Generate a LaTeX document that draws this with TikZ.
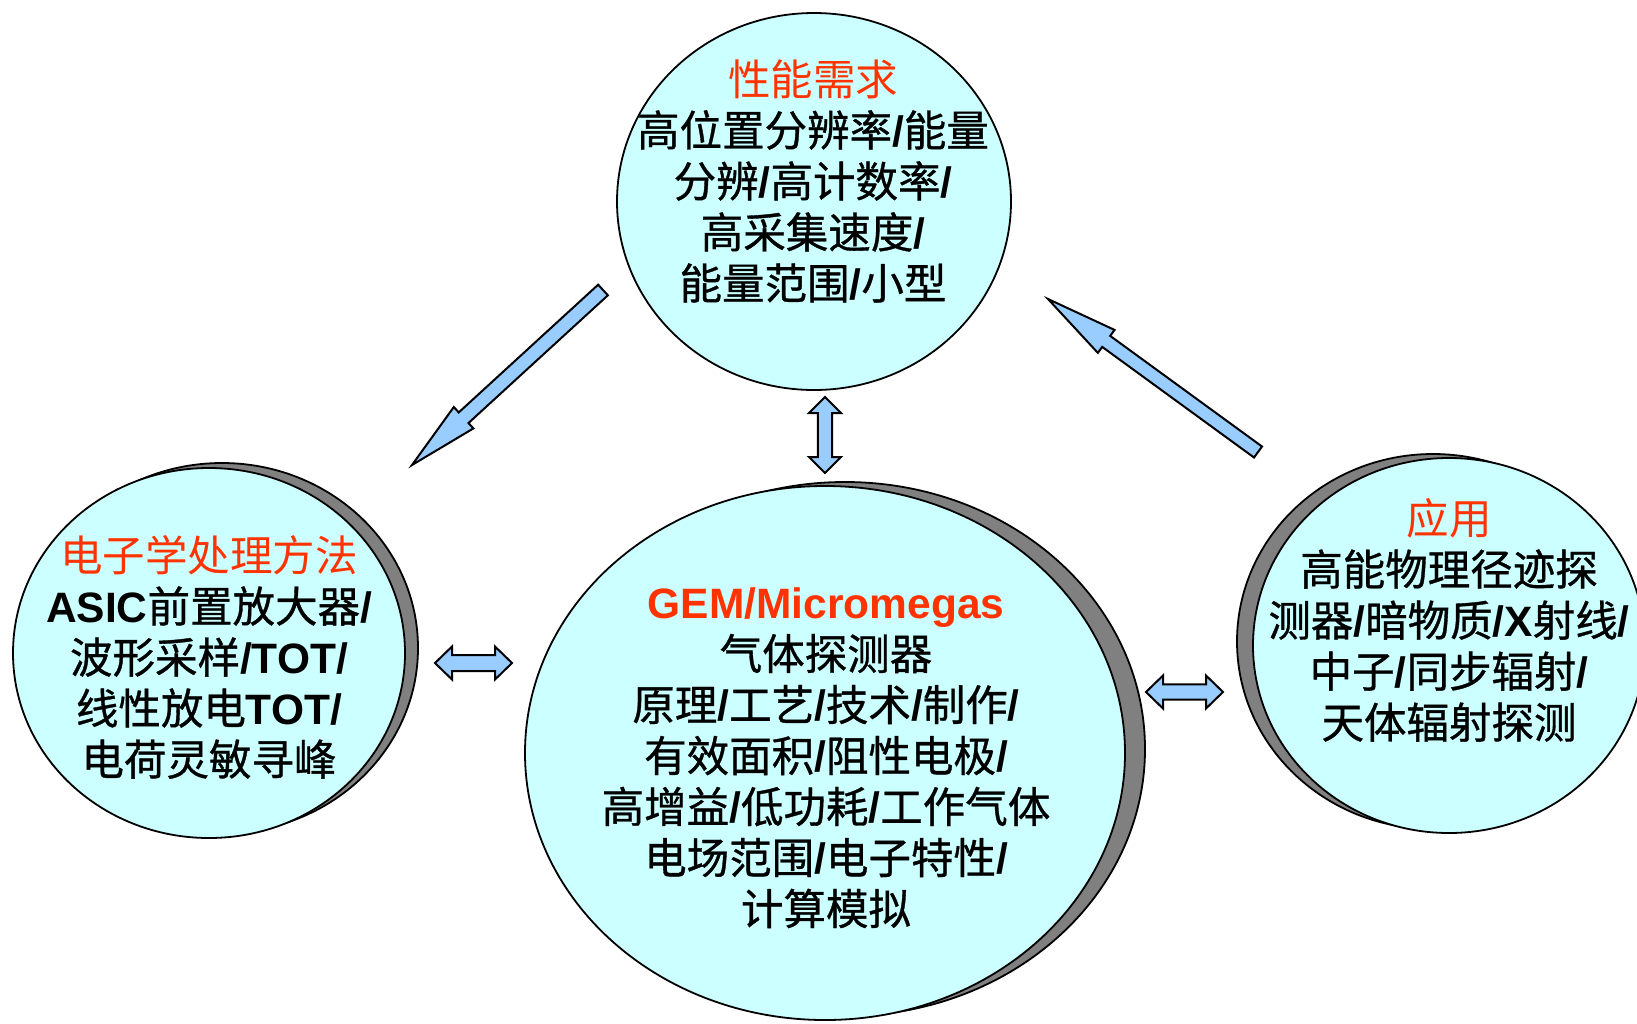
\documentclass[tikz,border=0pt]{standalone}
\usepackage{fontspec}
\setmainfont{Liberation Sans}
\newfontfamily\latb{Liberation Sans}[UprightFont={* Bold}]
\newfontfamily\cjk{Noto Sans CJK SC}
\newfontfamily\cjkb{Noto Sans CJK SC}[FakeBold=0.8]
\usetikzlibrary{calc,shapes.geometric}
\definecolor{bubble}{HTML}{CCFFFF}
\definecolor{arrowblue}{HTML}{99CCFF}
\definecolor{titlered}{HTML}{FF3300}
\definecolor{shadowgray}{HTML}{808080}
\newcommand\cb[1]{{\cjkb\mdseries #1}}
\newcommand\rt[1]{{\cjk\mdseries\color{titlered}#1}}
\newcommand\sarrow[5]{%
  \path ($(#2)!#5!(#1)$) coordinate (hb);
  \draw[blk] ($(#1)!#3!90:(#2)$) -- ($(hb)!#3!90:(#2)$) -- ($(hb)!#4!90:(#2)$) -- (#2)
    -- ($(hb)!#4!-90:(#2)$) -- ($(hb)!#3!-90:(#2)$) -- ($(#1)!#3!-90:(#2)$) -- cycle;}
\newcommand\darrow[5]{%
  \path ($(#1)!#5!(#2)$) coordinate (ba) ($(#2)!#5!(#1)$) coordinate (bb);
  \draw[blk] (#1) -- ($(ba)!#4!90:(#2)$) -- ($(ba)!#3!90:(#2)$) -- ($(bb)!#3!90:(#2)$)
    -- ($(bb)!#4!90:(#2)$) -- (#2) -- ($(bb)!#4!-90:(#2)$) -- ($(bb)!#3!-90:(#2)$)
    -- ($(ba)!#3!-90:(#2)$) -- ($(ba)!#4!-90:(#2)$) -- cycle;}
\tikzset{
  ell/.style={ellipse, draw=black, line width=0.9pt, fill=bubble, inner sep=0pt},
  shd/.style={ellipse, draw=black, line width=0.9pt, fill=shadowgray, inner sep=0pt},
  blk/.style={draw=black, line width=1pt, fill=arrowblue, line join=miter},
  txt/.style={align=center, inner sep=0pt, font=\latb\fontsize{21.25pt}{25.5pt}\selectfont}
}
\begin{document}
\begin{tikzpicture}[x=0.5pt,y=-0.5pt]
\useasboundingbox[fill=white] (0,0) rectangle (1637,1023);
% top
\node[ell, minimum width=197pt, minimum height=188.5pt] (top) at (814,201.5) {};
\node[txt] (toptext) at (813,181) {\rt{性能需求}\\
\cb{高位置分辨率}/\cb{能量}\\
\cb{分辨}/\cb{高计数率}/\\
\cb{高采集速度}/\\
\cb{能量范围}/\cb{小型}};
% left
\node[shd, minimum width=196pt, minimum height=185pt] (leftsh) at (222,648) {};
\node[ell, minimum width=196pt, minimum height=185pt] (left) at (209,653) {};
\node[txt] (lefttext) at (209,657) {\rt{电子学处理方法}\\
ASIC\cb{前置放大器}/\\
\cb{波形采样}/TOT/\\
\cb{线性放电}TOT/\\
\cb{电荷灵敏寻峰}};
% center
\node[shd, minimum width=300pt, minimum height=267pt] (censh) at (845,749) {};
\node[ell, minimum width=300pt, minimum height=267pt] (cen) at (825,753) {};
\node[txt] (centext) at (826,758) {{\color{titlered}GEM/Micromegas}\\
\cb{气体探测器}\\
\cb{原理}/\cb{工艺}/\cb{技术}/\cb{制作}/\\
\cb{有效面积}/\cb{阻性电极}/\\
\cb{高增益}/\cb{低功耗}/\cb{工作气体}\\
\cb{电场范围}/\cb{电子特性}/\\
\cb{计算模拟}};
% right
\node[shd, minimum width=196pt, minimum height=187.5pt] (rightsh) at (1433,641.5) {};
\node[ell, minimum width=196pt, minimum height=187.5pt] (right) at (1449,645.5) {};
\node[txt] (righttext) at (1449,620) {\rt{应用}\\
\cb{高能物理径迹探}\\
\cb{测器}/\cb{暗物质}/X\cb{射线}/\\
\cb{中子}/\cb{同步辐射}/\\
\cb{天体辐射探测}};
% arrows
\coordinate (a1t) at (603,290);
\coordinate (a1p) at (412,465);
\coordinate (a2t) at (1258,452);
\coordinate (a2p) at (1048,299);
\coordinate (v1) at (825,397);
\coordinate (v2) at (825,473);
\coordinate (l1) at (435,663);
\coordinate (l2) at (512,663);
\coordinate (r1) at (1146,692);
\coordinate (r2) at (1223,692);
\sarrow{a1t}{a1p}{3.6pt}{7.25pt}{35pt}
\sarrow{a2t}{a2p}{3.4pt}{7.1pt}{36pt}
\darrow{v1}{v2}{3.6pt}{8pt}{8pt}
\darrow{l1}{l2}{4pt}{8.25pt}{8.5pt}
\darrow{r1}{r2}{3.8pt}{8.25pt}{8.5pt}
\end{tikzpicture}
\end{document}
